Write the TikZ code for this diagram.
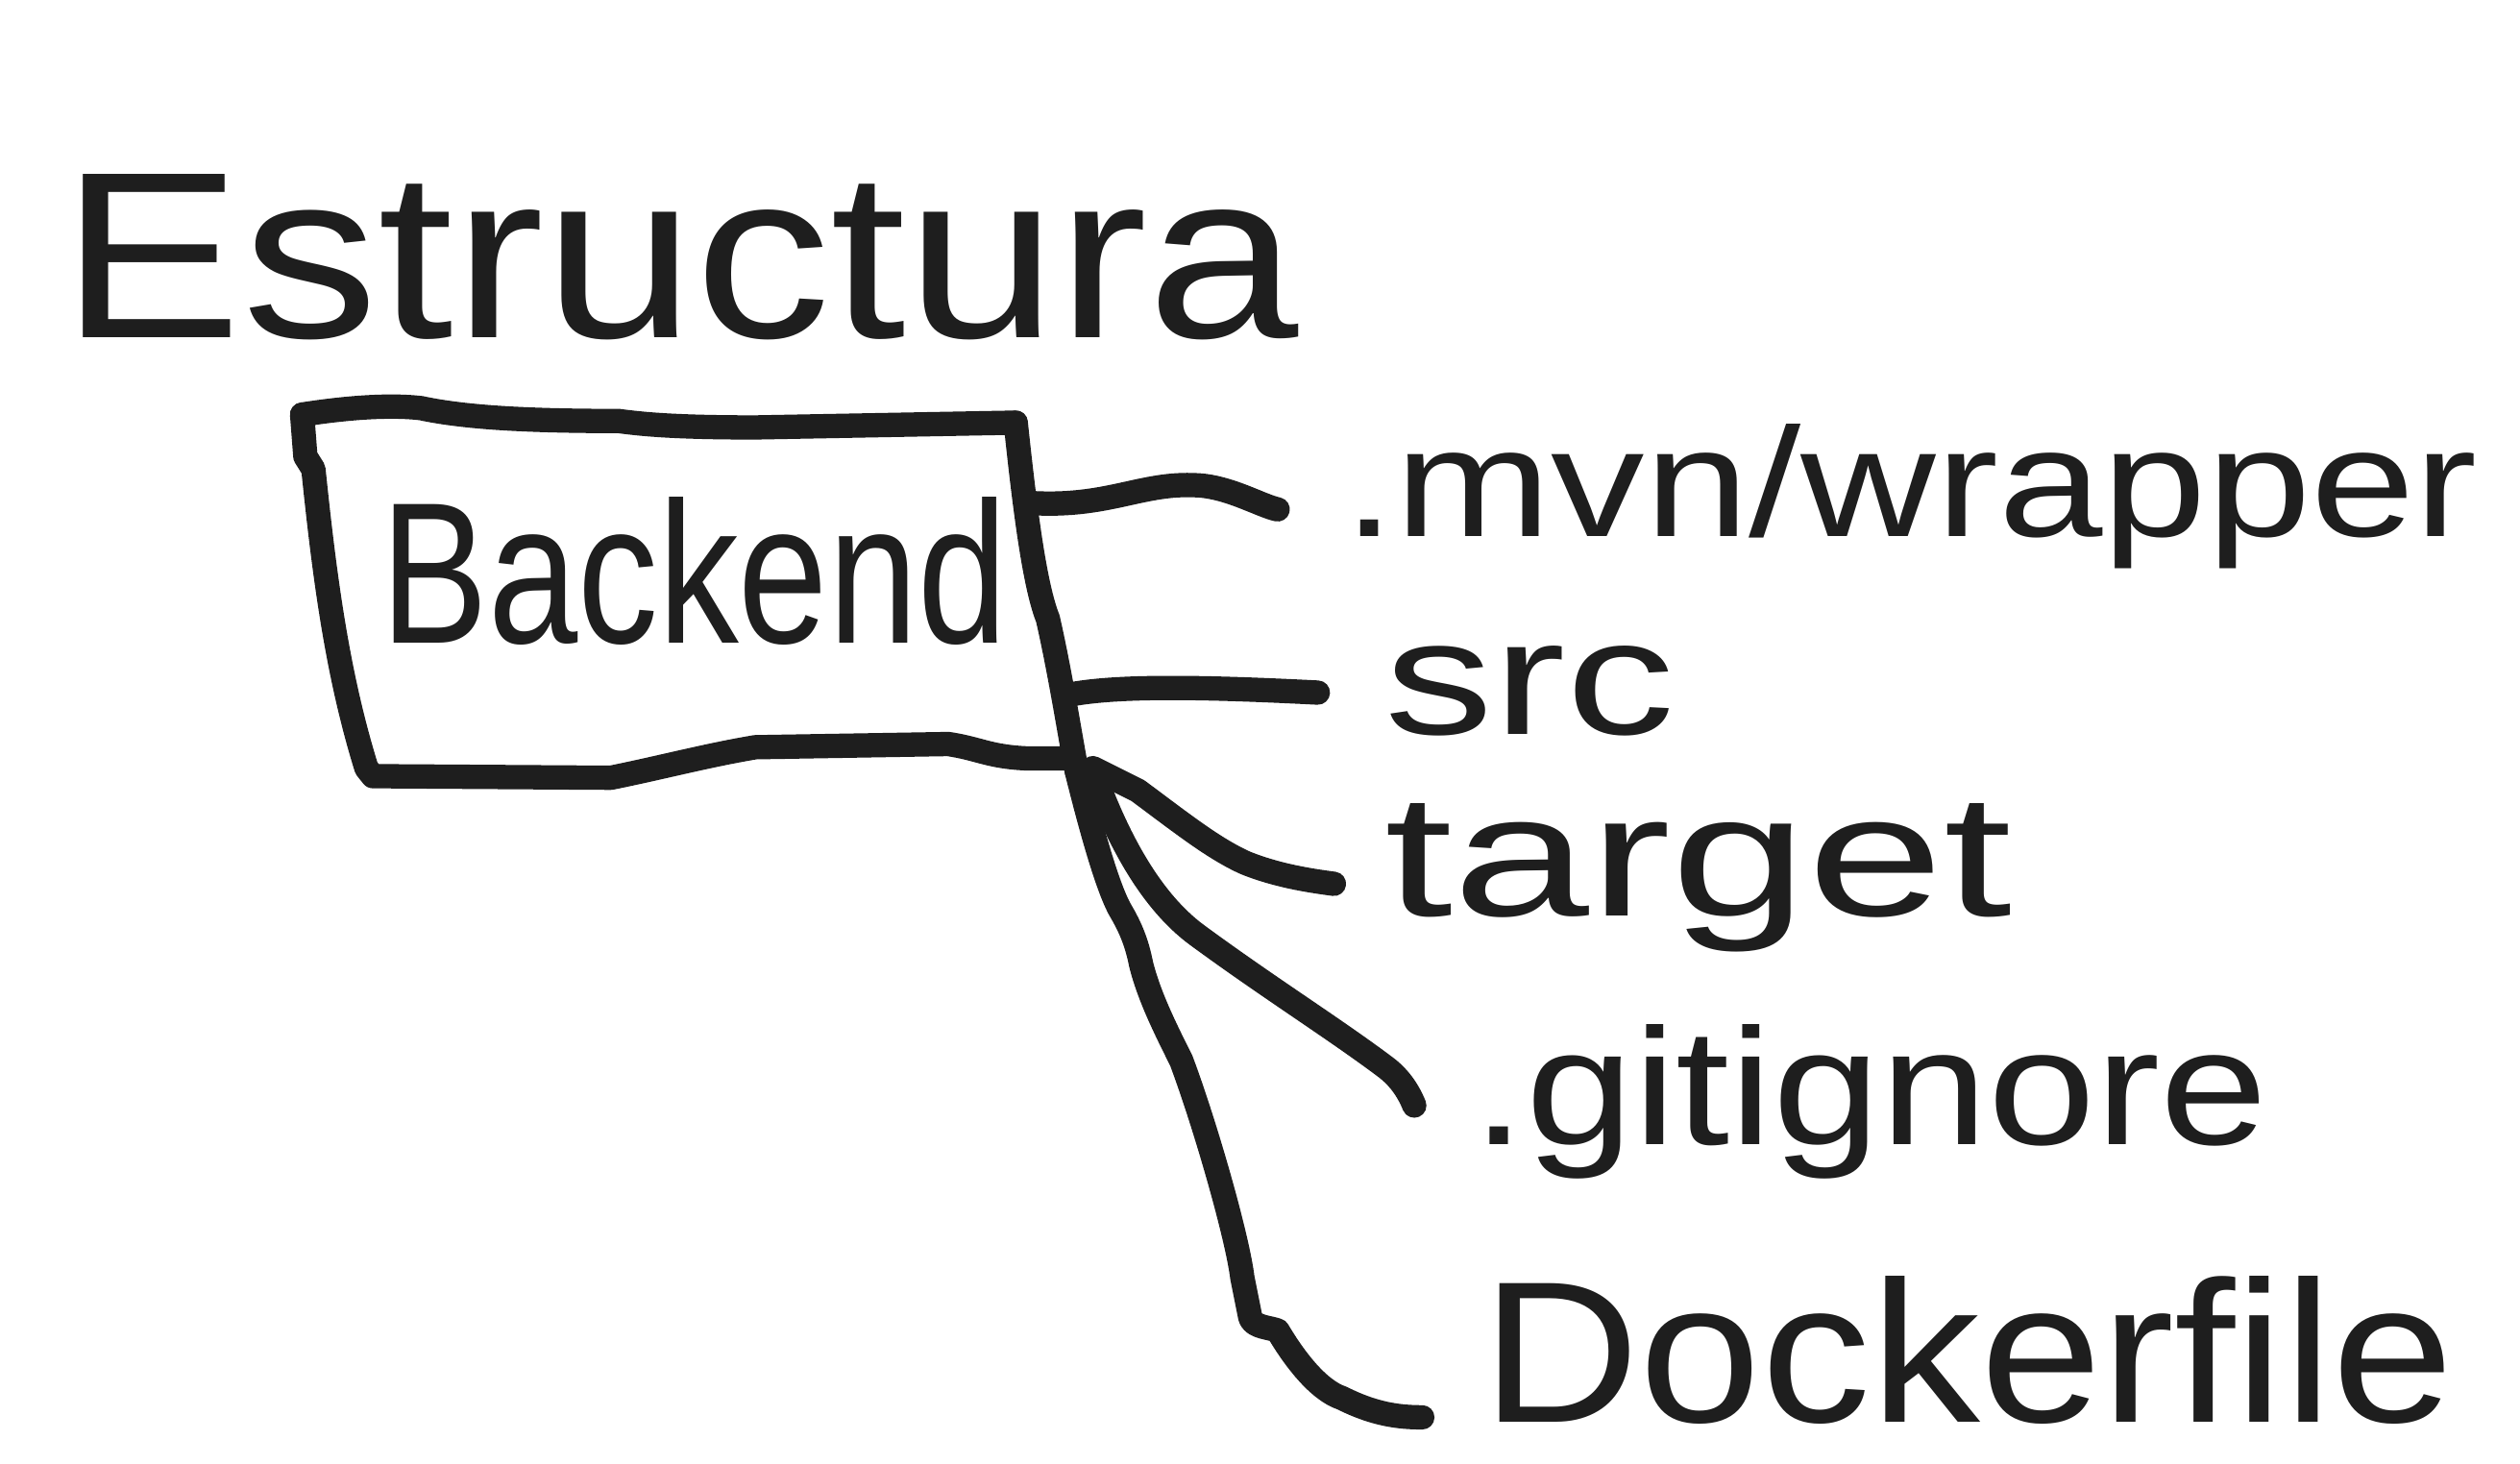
\documentclass[tikz,border=0pt]{standalone}
\usepackage{fontspec}
\setmainfont{Liberation Sans}
\definecolor{ink}{HTML}{1E1E1E}
\tikzset{
  sketch/.style={draw=ink, line width=7.2pt, line cap=round, line join=round},
  lbl/.style={inner sep=0pt, outer sep=0pt, text=ink, font=\mdseries, anchor=base west}
}
\begin{document}
\begin{tikzpicture}[x=0.1673mm,y=-0.1673mm]
\useasboundingbox[fill=white] (0,0) rectangle (1568,911);

% title
\node[lbl] (title) at (38,210) {\resizebox{128.8mm}{17mm}{Estructura}};

% box corners / anchors
\coordinate (tl) at (188,258);
\coordinate (tr) at (632,263);
\coordinate (bl) at (232,483);
\coordinate (br) at (668,472);
\coordinate (c1) at (641,313);
\coordinate (c2) at (667,432);
\coordinate (c3) at (680,478);
\coordinate (c4) at (682,485);
\coordinate (c5) at (670,480);

% box
\draw[sketch] (tl) -- (190,284) -- (195,292) .. controls (202,360) and (210,420) .. (228,478) -- (bl)
  -- (380,484) .. controls (410,478) and (440,470) .. (470,465) -- (590,463)
  .. controls (610,466) and (615,471) .. (640,472) -- (br);
\draw[sketch] (tl) .. controls (220,253) and (245,252) .. (262,254)
  .. controls (290,260) and (330,262) .. (385,262)
  .. controls (400,264) and (420,266) .. (470,266) -- (tr);
\draw[sketch] (tr) .. controls (638,320) and (644,365) .. (652,385)
  .. controls (660,420) and (667,465) .. (c5);

\node[lbl] (backend) at (237,400) {\resizebox{65.2mm}{15.2mm}{Backend}};

% labels
\node[lbl] (mvn) at (836,334) {\resizebox{118mm}{11.7mm}{.mvn/wrapper}};
\node[lbl] (src) at (862,457) {\resizebox{30.1mm}{9.2mm}{src}};
\node[lbl] (target) at (862,570) {\resizebox{65.2mm}{11.7mm}{target}};
\node[lbl] (git) at (916,712) {\resizebox{82.8mm}{12.5mm}{.gitignore}};
\node[lbl] (docker) at (922,885) {\resizebox{101.2mm}{15.2mm}{Dockerfile}};

% free ends of connectors
\coordinate (e1) at (795,317);
\coordinate (e2) at (820,431);
\coordinate (e3) at (830,550);
\coordinate (e4) at (880,688);
\coordinate (e5) at (885,882);

% connectors
\draw[sketch] (c1) .. controls (690,316) and (710,300) .. (745,302)
  .. controls (765,303) and (785,315) .. (e1);
\draw[sketch] (c2) .. controls (700,426) and (760,428) .. (e2);
\draw[sketch] (c3) -- (708,492) .. controls (735,512) and (755,528) .. (775,537)
  .. controls (795,545) and (815,548) .. (e3);
\draw[sketch] (c4) .. controls (695,520) and (715,560) .. (745,582)
  .. controls (790,615) and (830,640) .. (862,664)
  .. controls (870,670) and (876,678) .. (e4);
\draw[sketch] (c5) .. controls (680,520) and (690,555) .. (698,568)
  .. controls (705,580) and (708,590) .. (710,600)
  .. controls (715,620) and (725,640) .. (735,660)
  .. controls (750,700) and (770,770) .. (773,795) -- (778,820)
  .. controls (780,826) and (790,826) .. (795,828)
  .. controls (805,845) and (820,865) .. (835,870)
  .. controls (855,880) and (870,882) .. (e5);
\end{tikzpicture}
\end{document}
